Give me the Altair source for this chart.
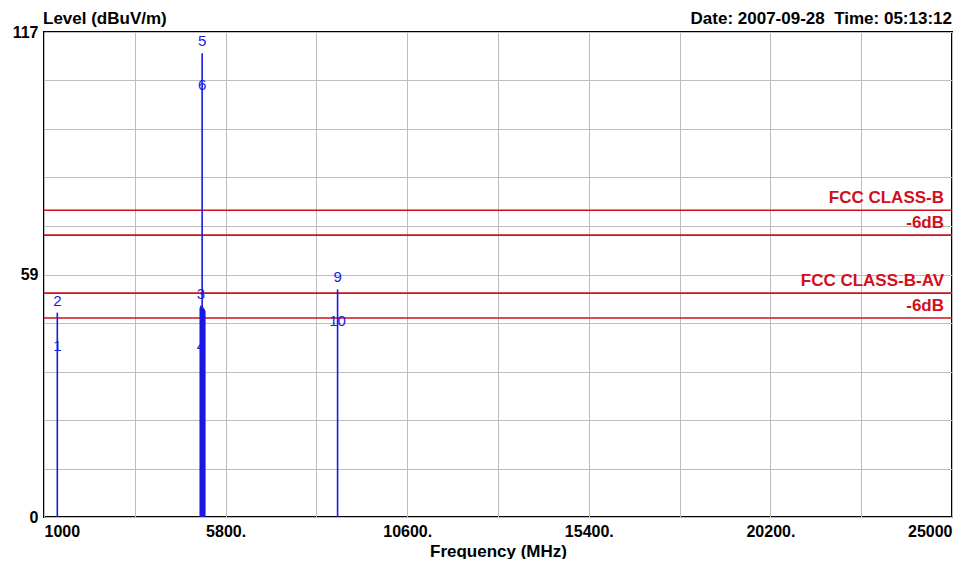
import altair as alt
import pandas as pd

# ---- data ----
spike_freq = [1352, 5130, 5150, 5165, 5180, 5195, 5210, 5230, 5250, 8760]
spike_level = [49.3, 50.5, 51.0, 50.8, 111.9, 50.6, 50.4, 50.2, 49.8, 54.9]

marker_id = ["1", "2", "3", "4", "5", "6", "9", "10"]
marker_freq = [1352, 1352, 5150, 5150, 5180, 5180, 8760, 8760]
marker_level = [41.3, 49.3, 51.0, 41.3, 111.9, 104.2, 54.9, 47.3]
marker_kind = ["av", "pk", "pk", "av", "pk", "av", "pk", "av"]

limit_level = [74, 68, 54, 48]
limit_label = ["FCC CLASS-B", "-6dB", "FCC CLASS-B-AV", "-6dB"]

x_grid = [1000 + 2400 * i for i in range(11)]
y_grid = [round(11.7 * i, 2) for i in range(11)]

W, H = 908, 485
BLUE = "#1a1ae6"
RED = "#d0101c"
FONT = "Liberation Sans"

spikes = pd.DataFrame({"freq": spike_freq, "level": spike_level, "base": 0})
markers = pd.DataFrame({"id": marker_id, "freq": marker_freq,
                        "level": marker_level, "kind": marker_kind})
limits = pd.DataFrame({"level": limit_level, "label": limit_label})

xscale = alt.Scale(domain=[1000, 25000], nice=False, zero=False)
yscale = alt.Scale(domain=[0, 117], nice=False)

xaxis = alt.Axis(values=x_grid, grid=True, ticks=False, domain=False,
                 labelExpr="(datum.value - 1000) % 4800 == 0 ? (datum.value == 1000 || datum.value == 25000 ? datum.value + '' : datum.value + '.') : ''",
                 labelFlush=True, labelPadding=6, title="Frequency (MHz)",
                 titlePadding=4,
                 labelFont=FONT, labelFontWeight="bold", labelFontSize=16, labelColor="black",
                 titleFont=FONT, titleFontWeight="bold", titleFontSize=17, titleColor="black",
                 gridColor="#bdbdbd", gridWidth=1, gridOpacity=1)
yaxis = alt.Axis(values=y_grid, grid=True, ticks=False, domain=False,
                 labelExpr="datum.value == 0 ? '0' : (abs(datum.value - 58.5) < 0.01 ? '59' : (datum.value == 117 ? '117' : ''))",
                 labelPadding=6, title=None,
                 labelFont=FONT, labelFontWeight="bold", labelFontSize=16, labelColor="black",
                 gridColor="#bdbdbd", gridWidth=1, gridOpacity=1)

spike_layer = alt.Chart(spikes).mark_rule(color=BLUE, strokeWidth=1.6).encode(
    x=alt.X("freq:Q", scale=xscale, axis=xaxis),
    y=alt.Y("base:Q", scale=yscale, axis=yaxis),
    y2="level:Q",
)

limit_rules = alt.Chart(limits).mark_rule(color=RED, strokeWidth=1.6).encode(
    y=alt.Y("level:Q", scale=yscale),
)
limit_text = alt.Chart(limits).mark_text(
    color=RED, font=FONT, fontWeight="bold", fontSize=17, align="right", dy=-12
).encode(
    y=alt.Y("level:Q", scale=yscale),
    x=alt.value(W - 8),
    text="label:N",
)

pk_text = alt.Chart(markers).transform_filter("datum.kind == 'pk'").mark_text(
    color=BLUE, font=FONT, fontSize=15, dy=-12
).encode(
    x=alt.X("freq:Q", scale=xscale),
    y=alt.Y("level:Q", scale=yscale),
    text="id:N",
)
av_text = alt.Chart(markers).transform_filter("datum.kind == 'av'").mark_text(
    color=BLUE, font=FONT, fontSize=15
).encode(
    x=alt.X("freq:Q", scale=xscale),
    y=alt.Y("level:Q", scale=yscale),
    text="id:N",
)

hdr = pd.DataFrame({"a": [0]})
left_hdr = alt.Chart(hdr).mark_text(
    font=FONT, fontWeight="bold", fontSize=17, align="left", baseline="middle"
).encode(x=alt.value(-1), y=alt.value(-13), text=alt.value("Level (dBuV/m)"))
right_hdr = alt.Chart(hdr).mark_text(
    font=FONT, fontWeight="bold", fontSize=17, align="right", baseline="middle"
).encode(x=alt.value(W), y=alt.value(-13),
         text=alt.value("Date: 2007-09-28\u00a0\u00a0Time: 05:13:12"))

chart = alt.layer(
    limit_rules, spike_layer, limit_text, pk_text, av_text, left_hdr, right_hdr
).properties(
    width=W, height=H,
    background="white",
    autosize=alt.AutoSizeParams(type="none"),
    padding={"left": 36, "top": 24, "right": 9, "bottom": 42},
).configure_view(
    stroke="black", strokeWidth=2
)

chart.save("out.html", embed_options={"renderer": "svg", "actions": False})
